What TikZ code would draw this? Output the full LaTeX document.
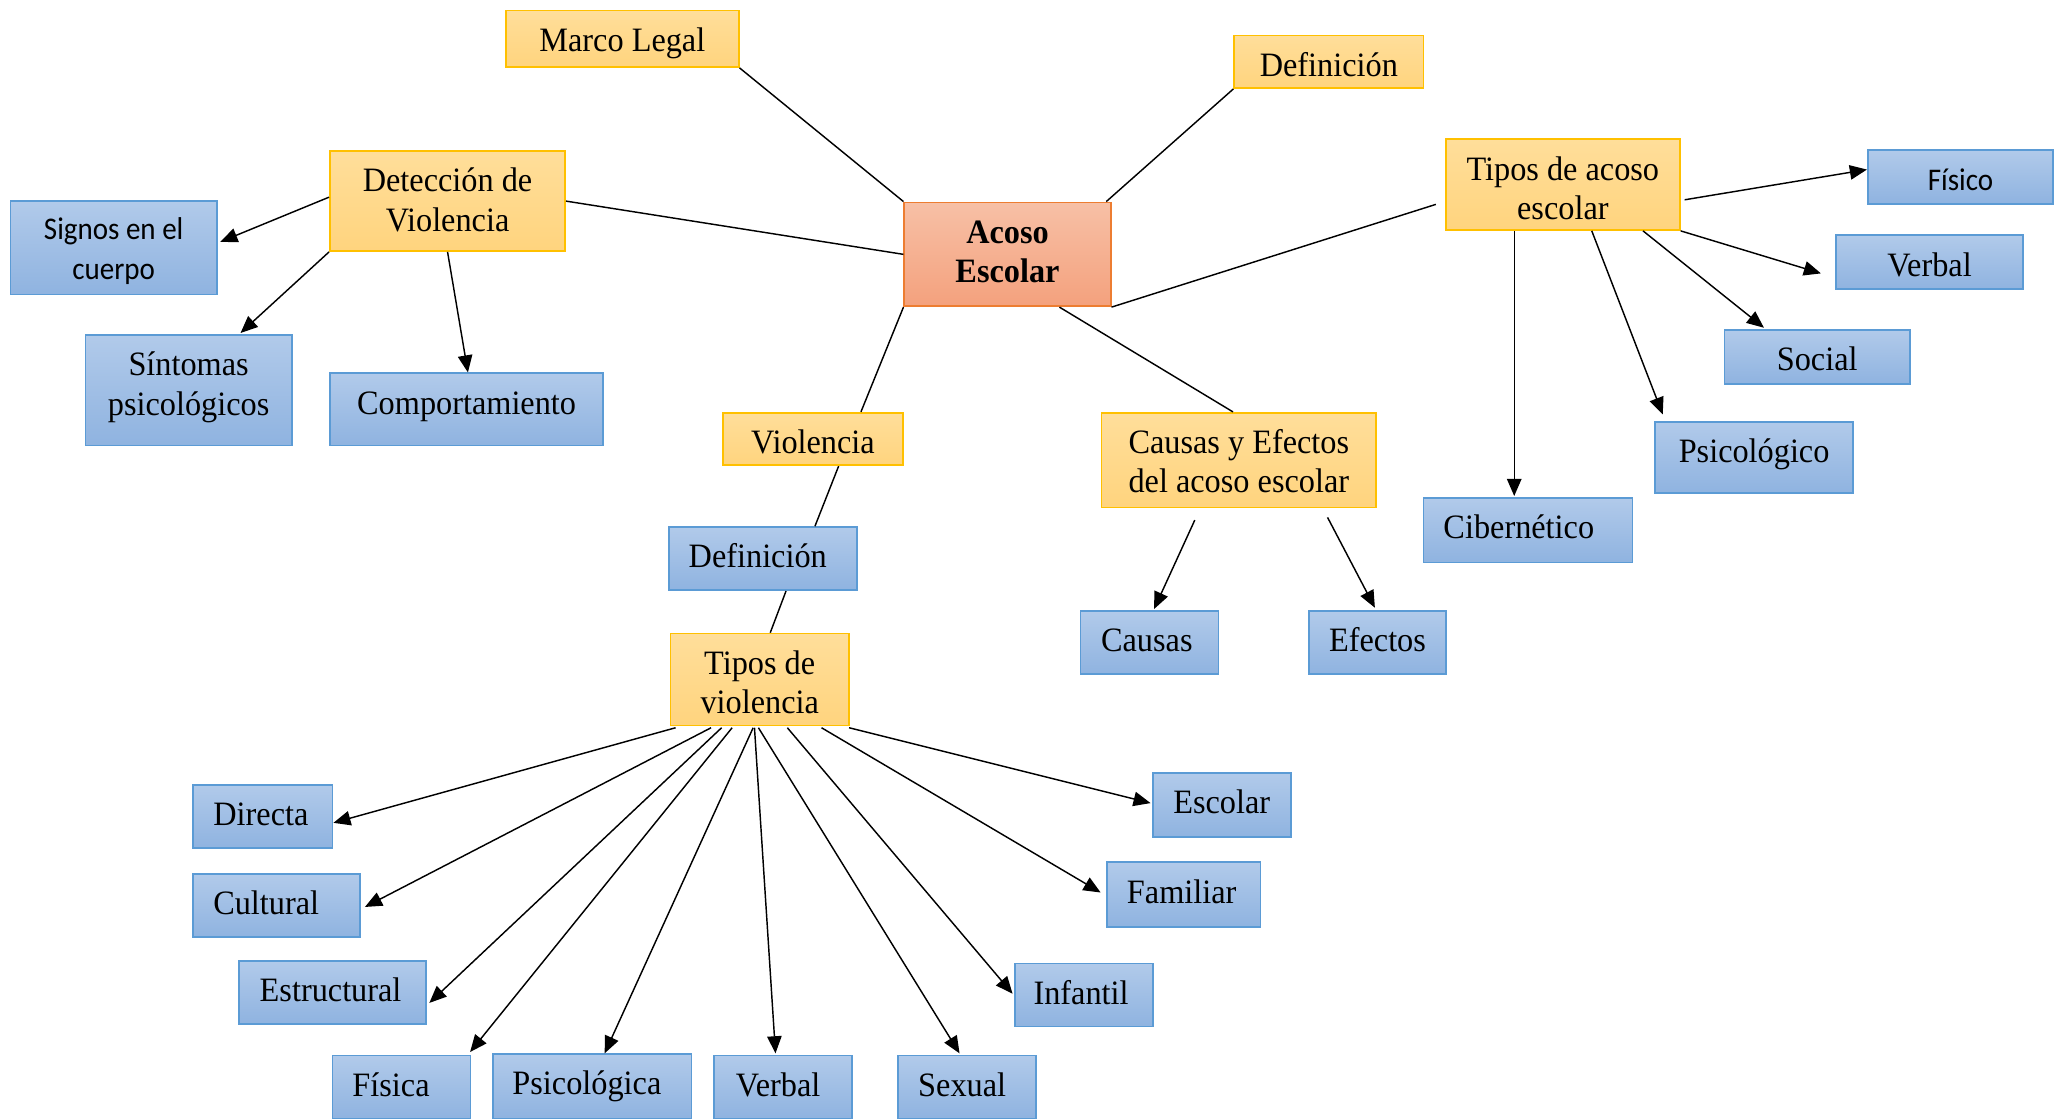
\documentclass[tikz,border=0pt]{standalone}
\usepackage{fontspec}
\setmainfont{Liberation Serif}[FakeStretch=0.945]
\newfontfamily\calfont{Carlito}[FakeStretch=0.92]
\usetikzlibrary{arrows.meta,calc}
\definecolor{ybord}{HTML}{FFC000}
\definecolor{ytop}{HTML}{FFDE9A}
\definecolor{ybot}{HTML}{FFD47E}
\definecolor{obord}{HTML}{ED7D31}
\definecolor{otop}{HTML}{F7C0A6}
\definecolor{obot}{HTML}{F4A17D}
\definecolor{bbord}{HTML}{5B9BD5}
\definecolor{btop}{HTML}{B1CAEA}
\definecolor{bbot}{HTML}{8FB3E0}
\newcommand\twoline[2]{\begin{tabular}[t]{@{}c@{}}#1\\#2\end{tabular}}
\tikzset{
  base/.style={draw, line width=1.3pt, inner sep=0pt,
    font=\fontsize{26}{30}\selectfont},
  ybox/.style={base, draw=ybord, top color=ytop, bottom color=ybot},
  obox/.style={base, draw=obord, top color=otop, bottom color=obot},
  bbox/.style={base, draw=bbord, top color=btop, bottom color=bbot},
  sz/.style n args={3}{minimum width=#1pt, minimum height=#2pt,
    text height=31pt, text depth=#3pt},
  link/.style={draw=black, line width=1.1pt},
  arr/.style={link, -{Triangle[length=13pt,width=11pt]}},
}
\begin{document}
\begin{tikzpicture}[x=1pt,y=-1pt]
\useasboundingbox (0,0) rectangle (1568,852);
% main nodes
\node[obox, sz={157}{79}{48}, font=\fontsize{26}{30}\selectfont\bfseries] (ae) at (766.5,193.5) {\twoline{Acoso}{Escolar}};
\node[ybox, sz={177}{43}{12}] (ml) at (473.5,29.5) {Marco Legal};
\node[ybox, sz={144}{40}{9}] (def1) at (1011,47) {Definición};
\node[ybox, sz={179}{76}{45}] (det) at (340.5,153) {\twoline{Detección de}{Violencia}};
\node[ybox, sz={178}{69}{38}] (ta) at (1189,140.5) {\twoline{Tipos de acoso}{escolar}};
\node[ybox, sz={137}{40}{9}] (vio) at (618.5,334) {Violencia};
\node[ybox, sz={209}{72}{41}] (ce) at (942.5,350) {\twoline{Causas y Efectos}{del acoso escolar}};
\node[ybox, sz={136}{70}{39}] (tv) at (578,517) {\twoline{Tipos de}{violencia}};
% blue nodes
\node[bbox, minimum width=157pt, minimum height=71pt, text height=29.5pt, text depth=41.5pt, font=\calfont\fontsize{24}{30}\selectfont] (sg) at (86.5,188.5) {\twoline{Signos en el}{cuerpo}};
\node[bbox, sz={157}{84}{53}] (sin) at (143.5,297) {\twoline{Síntomas}{psicológicos}};
\node[bbox, sz={208}{55}{24}] (com) at (355,311.5) {Comportamiento};
\node[bbox, sz={143}{48}{17}] (def2) at (580.5,425) {\hspace*{-8pt}Definición};
\node[bbox, sz={105}{48}{17}] (cau) at (874.5,489) {\hspace*{-4pt}Causas};
\node[bbox, sz={104}{48}{17}] (efe) at (1048,489) {Efectos};
\node[bbox, sz={141}{41}{10}, font=\calfont\fontsize{24}{30}\selectfont] (fis) at (1491.5,134.5) {Físico};
\node[bbox, sz={142}{41}{10}] (ver) at (1468,199.5) {Verbal};
\node[bbox, sz={141}{41}{10}] (soc) at (1382.5,271.5) {Social};
\node[bbox, sz={151}{54}{23}] (psi) at (1334.5,348) {Psicológico};
\node[bbox, sz={159}{49}{18}] (cib) at (1162.5,403.5) {\hspace*{-14pt}Cibernético};
\node[bbox, sz={106}{48}{17}] (dir) at (200,621) {\hspace*{-3pt}Directa};
\node[bbox, sz={127}{48}{17}] (cul) at (210.5,689) {\hspace*{-16pt}Cultural};
\node[bbox, sz={142}{48}{17}] (est) at (253,755) {\hspace*{-3pt}Estructural};
\node[bbox, sz={105}{48}{17}] (fsa) at (305.5,827) {\hspace*{-16pt}Física};
\node[bbox, sz={151}{49}{18}] (psa) at (450.5,826.5) {\hspace*{-8pt}Psicológica};
\node[bbox, sz={105}{48}{17}] (vb) at (595.5,827) {\hspace*{-7pt}Verbal};
\node[bbox, sz={105}{48}{17}] (sex) at (735.5,827) {\hspace*{-7pt}Sexual};
\node[bbox, sz={105}{48}{17}] (inf) at (824.5,757) {\hspace*{-4pt}Infantil};
\node[bbox, sz={117}{49}{18}] (fam) at (900.5,680.5) {\hspace*{-3pt}Familiar};
\node[bbox, sz={105}{49}{18}] (esc) at (929.5,612.5) {Escolar};
% plain links
\draw[link] (ml.south east) -- (ae.north west);
\draw[link] (def1.south west) -- ($(ae.north east)+(-4,0)$);
\draw[link] (det.east) -- (ae.west);
\draw[link] ($(ta.west)+(-7,15)$) -- (ae.south east);
\draw[link] (ae.south west) -- ($(vio.north)+(36.5,0)$);
\draw[link] ($(ae.south)+(39.5,0)$) -- ($(ce.north)+(-4.5,0)$);
\draw[link] ($(vio.south)+(19.5,0)$) -- ($(def2.north)+(39.5,0)$);
\draw[link] ($(def2.south)+(17.5,0)$) -- ($(tv.north)+(8,0)$);
% detection arrows
\draw[arr] ($(det.west)+(0,-3)$) -- ($(sg.east)+(2,-4.5)$);
\draw[arr] (det.south west) -- ($(sin.north)+(39.5,-1)$);
\draw[arr] (det.south) -- ($(com.north)+(1,0)$);
% tipos de acoso arrows
\draw[arr] ($(ta.east)+(3,11.5)$) -- ($(fis.west)+(0,-5.5)$);
\draw[arr] (ta.south east) -- ($(ver.west)+(-11,8.5)$);
\draw[arr] ($(ta.south)+(61,0)$) -- ($(soc.north)+(-40.5,-1)$);
\draw[arr] ($(ta.south)+(22,0)$) -- ($(psi.north)+(-69.5,-5)$);
\draw[arr] ($(ta.south)+(-37,0)$) -- ($(cib.north)+(-10.5,-1)$);
% causas y efectos arrows
\draw[arr] ($(ce.south)+(-33.5,9)$) -- ($(cau.north)+(3.5,-1)$);
\draw[arr] ($(ce.south)+(67.5,7)$) -- ($(efe.north)+(-2,-2)$);
% tipos de violencia arrows
\draw[arr] ($(tv.south)+(-64,1)$) -- ($(dir.east)+(0,5)$);
\draw[arr] ($(tv.south)+(-37,1)$) -- ($(cul.east)+(3,1)$);
\draw[arr] ($(tv.south)+(-29,1)$) -- ($(est.east)+(2,8)$);
\draw[arr] ($(tv.south)+(-21,1)$) -- ($(fsa.north east)+(-1,-2)$);
\draw[arr] ($(tv.south)+(-5,1)$) -- ($(psa.north)+(9.5,0)$);
\draw[arr] ($(tv.south)+(-4,1)$) -- ($(vb.north)+(-5.5,-1)$);
\draw[arr] ($(tv.south)+(-1,1)$) -- ($(sex.north)+(-5.5,-1)$);
\draw[arr] ($(tv.south)+(21,1)$) -- ($(inf.west)+(-1,-1)$);
\draw[arr] ($(tv.south)+(47,1)$) -- ($(fam.west)+(-4,-1.5)$);
\draw[arr] ($(tv.south)+(68,1)$) -- ($(esc.west)+(-1,-1.5)$);
\end{tikzpicture}
\end{document}
